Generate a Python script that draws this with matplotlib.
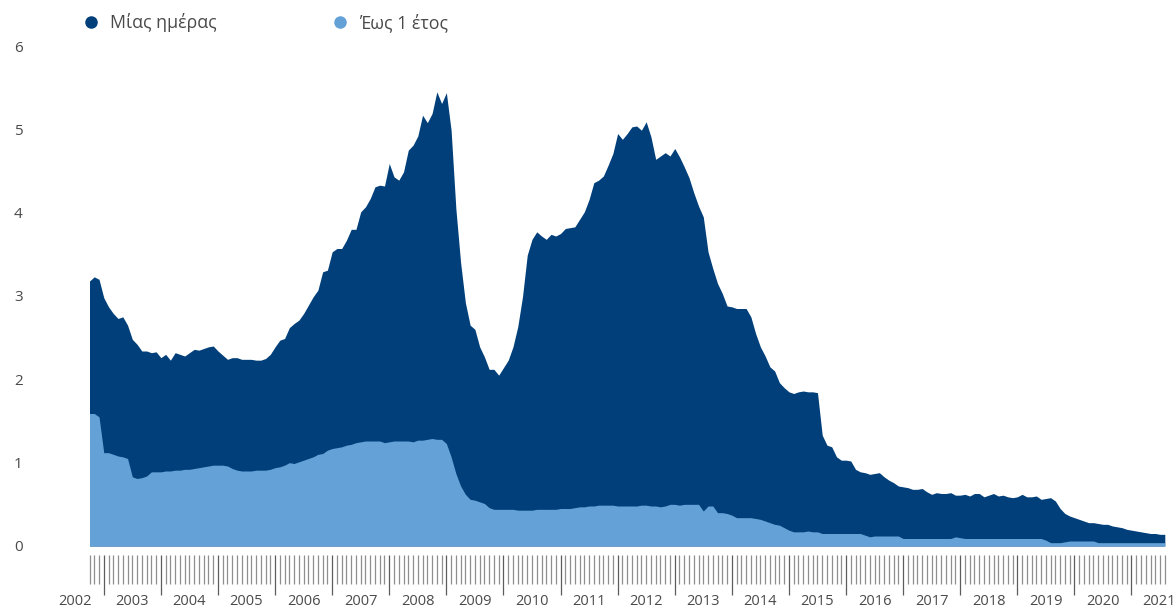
import numpy as np
import matplotlib
matplotlib.use('Agg')
import matplotlib.pyplot as plt
from matplotlib.lines import Line2D
import matplotlib.transforms as mtransforms
import pandas as pd

plt.rcParams['font.family'] = ['Open Sans', 'DejaVu Sans']

start_month = '2002-10'
series_names = ['Μίας ημέρας', 'Έως 1 έτος']
year_labels = list(range(2002, 2022))
y_ticks = [0, 1, 2, 3, 4, 5, 6]

overnight = [
    3.18, 3.23, 3.20, 2.98, 2.87, 2.79, 2.73, 2.75, 2.65, 2.48,
    2.42, 2.34, 2.34, 2.32, 2.33, 2.26, 2.30, 2.23, 2.32, 2.30,
    2.28, 2.32, 2.36, 2.35, 2.37, 2.39, 2.40, 2.34, 2.29, 2.24,
    2.26, 2.26, 2.24, 2.24, 2.24, 2.23, 2.23, 2.25, 2.30, 2.39,
    2.47, 2.49, 2.62, 2.67, 2.71, 2.79, 2.89, 2.99, 3.07, 3.29,
    3.31, 3.53, 3.57, 3.57, 3.67, 3.80, 3.80, 4.01, 4.07, 4.17,
    4.31, 4.33, 4.32, 4.59, 4.43, 4.39, 4.49, 4.75, 4.81, 4.92,
    5.17, 5.08, 5.19, 5.45, 5.31, 5.44, 4.99, 4.05, 3.40, 2.92,
    2.65, 2.60, 2.39, 2.27, 2.12, 2.12, 2.05, 2.14, 2.23, 2.39,
    2.63, 2.99, 3.49, 3.68, 3.77, 3.72, 3.68, 3.74, 3.72, 3.75,
    3.81, 3.82, 3.83, 3.92, 4.01, 4.16, 4.36, 4.39, 4.44, 4.57,
    4.71, 4.95, 4.88, 4.95, 5.03, 5.04, 4.99, 5.09, 4.91, 4.64,
    4.68, 4.72, 4.68, 4.77, 4.67, 4.55, 4.42, 4.24, 4.08, 3.95,
    3.53, 3.33, 3.15, 3.03, 2.88, 2.87, 2.85, 2.85, 2.85, 2.75,
    2.55, 2.39, 2.28, 2.15, 2.10, 1.96, 1.90, 1.85, 1.83, 1.85,
    1.86, 1.85, 1.85, 1.84, 1.33, 1.21, 1.19, 1.07, 1.03, 1.03,
    1.02, 0.92, 0.89, 0.88, 0.86, 0.87, 0.88, 0.83, 0.79, 0.76,
    0.72, 0.71, 0.70, 0.68, 0.68, 0.69, 0.65, 0.62, 0.64, 0.63,
    0.63, 0.64, 0.61, 0.61, 0.62, 0.60, 0.63, 0.63, 0.59, 0.61,
    0.63, 0.60, 0.61, 0.59, 0.58, 0.59, 0.62, 0.59, 0.59, 0.60,
    0.56, 0.57, 0.58, 0.54, 0.45, 0.39, 0.36, 0.34, 0.32, 0.30,
    0.28, 0.28, 0.27, 0.26, 0.26, 0.24, 0.23, 0.22, 0.20, 0.19,
    0.18, 0.17, 0.16, 0.15, 0.15, 0.14, 0.14,
]

up_to_1y = [
    1.59, 1.59, 1.55, 1.12, 1.12, 1.10, 1.08, 1.07, 1.05, 0.83,
    0.81, 0.82, 0.84, 0.89, 0.89, 0.89, 0.90, 0.90, 0.91, 0.91,
    0.92, 0.92, 0.93, 0.94, 0.95, 0.96, 0.97, 0.97, 0.97, 0.96,
    0.93, 0.91, 0.90, 0.90, 0.90, 0.91, 0.91, 0.91, 0.92, 0.94,
    0.95, 0.97, 1.00, 0.99, 1.01, 1.03, 1.05, 1.07, 1.10, 1.11,
    1.15, 1.17, 1.18, 1.19, 1.21, 1.22, 1.24, 1.25, 1.26, 1.26,
    1.26, 1.26, 1.24, 1.25, 1.26, 1.26, 1.26, 1.26, 1.25, 1.27,
    1.27, 1.28, 1.29, 1.28, 1.28, 1.23, 1.07, 0.87, 0.72, 0.62,
    0.56, 0.55, 0.53, 0.51, 0.46, 0.44, 0.44, 0.44, 0.44, 0.44,
    0.43, 0.43, 0.43, 0.43, 0.44, 0.44, 0.44, 0.44, 0.44, 0.45,
    0.45, 0.45, 0.46, 0.47, 0.47, 0.48, 0.48, 0.49, 0.49, 0.49,
    0.49, 0.48, 0.48, 0.48, 0.48, 0.48, 0.49, 0.49, 0.48, 0.48,
    0.47, 0.48, 0.50, 0.50, 0.49, 0.50, 0.50, 0.50, 0.50, 0.42,
    0.48, 0.48, 0.40, 0.40, 0.39, 0.37, 0.34, 0.34, 0.34, 0.34,
    0.33, 0.32, 0.30, 0.28, 0.26, 0.25, 0.22, 0.19, 0.17, 0.17,
    0.17, 0.18, 0.17, 0.17, 0.15, 0.15, 0.15, 0.15, 0.15, 0.15,
    0.15, 0.15, 0.15, 0.13, 0.11, 0.12, 0.12, 0.12, 0.12, 0.12,
    0.12, 0.09, 0.09, 0.09, 0.09, 0.09, 0.09, 0.09, 0.09, 0.09,
    0.09, 0.09, 0.11, 0.10, 0.09, 0.09, 0.09, 0.09, 0.09, 0.09,
    0.09, 0.09, 0.09, 0.09, 0.09, 0.09, 0.09, 0.09, 0.09, 0.09,
    0.09, 0.07, 0.04, 0.04, 0.04, 0.05, 0.06, 0.06, 0.06, 0.06,
    0.06, 0.06, 0.04, 0.04, 0.04, 0.04, 0.04, 0.04, 0.04, 0.04,
    0.04, 0.04, 0.04, 0.04, 0.04, 0.04, 0.04,
]

DARK = '#003f7a'
LIGHT = '#63a1d6'
TEXT = '#4a4a4a'

months = pd.period_range(start_month, periods=len(overnight), freq='M')
x = np.arange(len(months))

W, H = 1175, 608
fig = plt.figure(figsize=(W / 100, H / 100), dpi=100)
left_px, right_px = 89.5, 1164.8
top_px, bottom_px = 46, 555
ax_h_px = bottom_px - top_px
ax = fig.add_axes([left_px / W, 1 - bottom_px / H,
                   (right_px - left_px) / W, ax_h_px / H])

ax.fill_between(x, 0, overnight, color=DARK, lw=0)
ax.fill_between(x, 0, up_to_1y, color=LIGHT, lw=0)

ax.set_xlim(0, len(x) - 1)
ax.set_ylim(-9 / 83.33, 6)
for s in ax.spines.values():
    s.set_visible(False)

ax.set_yticks(y_ticks)
ax.set_yticklabels([str(v) for v in y_ticks])
ax.tick_params(axis='y', length=0, pad=48, labelsize=11, labelcolor=TEXT)

jan_idx = x[np.asarray(months.month) == 1]
ax.set_xticks(jan_idx)
ax.set_xticklabels([])
ax.set_xticks(x, minor=True)
ax.tick_params(axis='x', which='major', length=28.8, width=0.9, color='#5c5c5c')
ax.tick_params(axis='x', which='minor', length=20.9, width=0.9, color='#8f8f8f')

first = months[0]
label_pos = [(y - first.year) * 12 - (first.month - 1) + 6.0 for y in year_labels]
trans = mtransforms.blended_transform_factory(ax.transData, ax.transAxes)
label_y = -(601.5 - bottom_px) / ax_h_px
for i, (pos, yr) in enumerate(zip(label_pos, year_labels)):
    if i == len(year_labels) - 1:
        ax.text(1, label_y, str(yr), transform=ax.transAxes, ha='center',
                va='center', fontsize=10.5, color=TEXT, clip_on=False,
                position=(1 - 6 / (right_px - left_px), label_y))
    else:
        ax.text(pos, label_y, str(yr), transform=trans, ha='center', va='center',
                fontsize=10.5, color=TEXT, clip_on=False)

for name, col, xc in [(series_names[0], DARK, 91), (series_names[1], LIGHT, 340)]:
    h = Line2D([], [], marker='o', ls='', color=col, markersize=8)
    fs = 12.8
    hl = 1.0
    handle_px = hl * fs / 0.72
    leg = fig.legend(handles=[h], labels=[name], loc='center left',
                     bbox_to_anchor=((xc - handle_px / 2) / W, 1 - 23 / H),
                     frameon=False, fontsize=fs, handlelength=hl,
                     handletextpad=0.55, borderpad=0, borderaxespad=0)
    for t in leg.get_texts():
        t.set_color(TEXT)

fig.savefig('out.png', dpi=100)
